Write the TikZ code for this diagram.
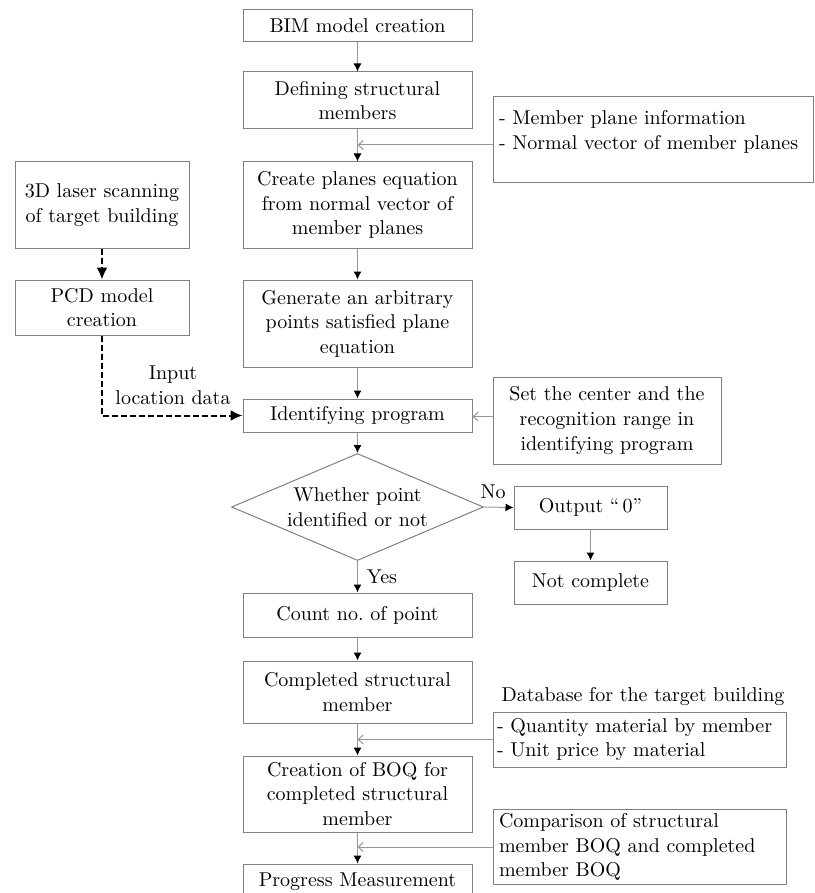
\documentclass[tikz,border=0pt]{standalone}
\usetikzlibrary{arrows.meta,shapes.geometric}

\definecolor{framegray}{RGB}{128,128,128}
\definecolor{linegray}{RGB}{150,150,150}

\begin{document}
\begin{tikzpicture}[x=0.5pt,y=-0.5pt,
    every node/.style={font=\fontsize{10}{12.3}\selectfont},
    box/.style={draw=framegray,line width=0.5pt,inner sep=2pt,align=center},
    mainbox/.style={box,minimum width=114.5pt,text width=110pt},
    scanbox/.style={box,minimum width=87pt,text width=83pt},
    notebox/.style={box,align=left},
    decide/.style={diamond,draw=framegray,line width=0.5pt,aspect=2.36,inner sep=0pt,
        minimum width=126pt,minimum height=53.5pt,align=center},
    plain/.style={inner sep=0pt,align=center},
    flow/.style={draw=linegray,line width=0.5pt,-{Latex[black,length=4pt,width=4pt]}},
    feed/.style={draw=linegray,line width=0.5pt,-{Straight Barb[linegray,length=2.5pt,width=4.5pt]}},
    scanflow/.style={draw=black,line width=1pt,dash pattern=on 3pt off 1.5pt,
        -{Latex[black,length=6pt,width=5.5pt]}}]
    \useasboundingbox (0,0) rectangle (814,893);

    % main column
    \node[mainbox,minimum height=16pt] (bim) at (357.5,26) {BIM model creation};
    \node[mainbox,minimum height=28.5pt] (defn) at (357.5,100.5) {Defining structural\\members};
    \node[mainbox,minimum height=43pt] (plane) at (357.5,205) {Create planes equation\\from normal vector of\\member planes};
    \node[mainbox,minimum height=43.5pt] (gener) at (357.5,323.5) {Generate an arbitrary\\points satisfied plane\\equation};
    \node[mainbox,minimum height=16.5pt] (ident) at (357.5,415.5) {Identifying program};
    \node[decide] (check) at (357.5,507) {Whether point\\identified or not};
    \node[mainbox,minimum height=22pt] (count) at (357.5,615) {Count no.\ of point};
    \node[mainbox,minimum height=31pt] (compl) at (357.5,692) {Completed structural\\member};
    \node[mainbox,minimum height=38pt] (boq) at (357.5,794) {Creation of BOQ for\\completed structural\\member};
    \node[mainbox,minimum height=18pt] (prog) at (357.5,882) {Progress Measurement};

    % scanning side
    \node[scanbox,minimum height=43pt] (scan) at (102,205) {3D laser scanning\\of target building};
    \node[scanbox,minimum height=27.5pt] (pcd) at (102,307.5) {PCD model\\creation};
    \node[plain] (inp) at (173,385.5) {Input\\location data};

    % inputs on the right
    \node[notebox,inner xsep=3pt,text width=154pt,minimum height=43pt] (memb) at (653,140) {- Member plane information\\- Normal vector of member planes\\[-6pt]\strut};
    \node[box,minimum width=114pt,minimum height=43.5pt] (setc) at (607,420.5) {Set the center and the\\recognition range in\\identifying program};
    \node[box,minimum width=76.5pt,minimum height=21.5pt] (outz) at (590.5,507.5) {Output ``\,0''};
    \node[box,minimum width=76.5pt,minimum height=21.5pt] (notc) at (590.5,582.5) {Not complete};
    \node[plain] (dbase) at (643,697) {Database for the target building};
    \node[notebox,text width=142.5pt,minimum height=27.5pt] (qty) at (639.5,739.5) {- Quantity material by member\\- Unit price by material};
    \node[notebox,inner xsep=3pt,text width=140.5pt,minimum height=37pt] (cmp) at (639.5,847) {Comparison of structural\\member BOQ and completed\\member BOQ};
    \node[plain] (nolab) at (493,492) {No};
    \node[plain] (yeslab) at (382,577) {Yes};

    % connectors
    \foreach \a/\b in {bim/defn,defn/plane,plane/gener,gener/ident,ident/check,check/count,count/compl,compl/boq,boq/prog,outz/notc}
        \draw[flow] (\a.south) -- (\b.north);
    \draw[flow] (check.east) -- (outz.west);
    \draw[scanflow] (scan.south) -- (pcd.north);
    \draw[scanflow] (pcd.south) |- (ident.west);
    \draw[feed] ([yshift=-2.5pt]memb.west) -- ([yshift=-2.5pt]memb.west -| defn.south);
    \draw[feed] ([yshift=2pt]setc.west) -- ([yshift=2pt]setc.west -| ident.east);
    \draw[feed] (qty.west) -- (qty.west -| compl.south);
    \draw[feed] (cmp.west) -- (cmp.west -| boq.south);
\end{tikzpicture}
\end{document}
